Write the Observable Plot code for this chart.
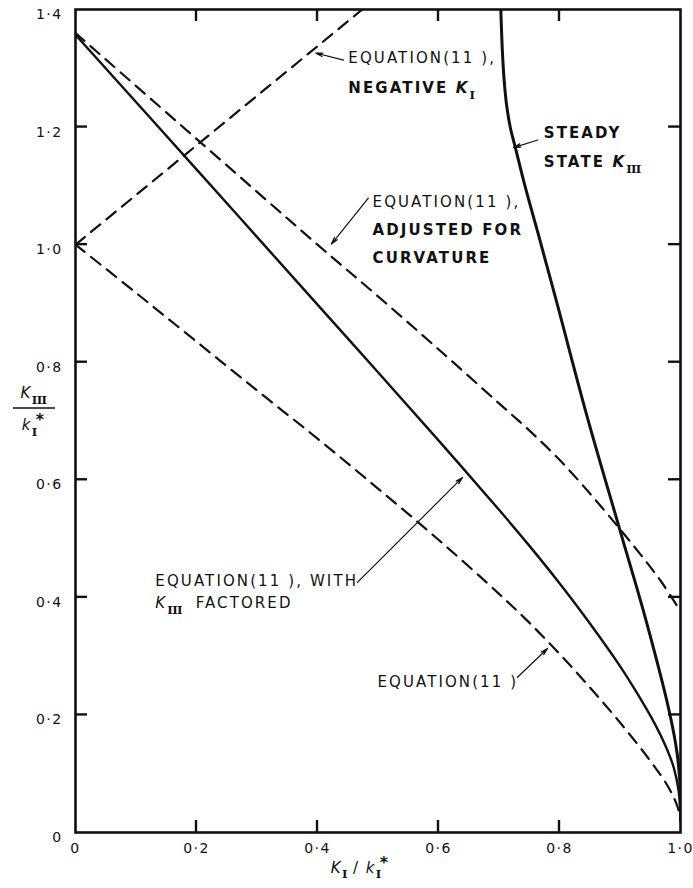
<!DOCTYPE html>
<html><head><meta charset="utf-8">
<script src="https://cdn.jsdelivr.net/npm/d3@7"></script>
<script src="https://cdn.jsdelivr.net/npm/@observablehq/plot@0.6"></script>
<style>
body{margin:0;background:#fff;}
#chart svg text{letter-spacing:1.4px}
#chart svg g.notes text{letter-spacing:2.1px}
</style></head><body><div id="chart"></div>
<script>
// ---- axes / ticks ----
const xTicks = [0, 0.2, 0.4, 0.6, 0.8, 1.0];
const yTicks = [0, 0.2, 0.4, 0.6, 0.8, 1.0, 1.2, 1.4];
const innerXTicks = [0.2, 0.4, 0.6, 0.8];
const innerYTicks = [0.2, 0.4, 0.6, 0.8, 1.0, 1.2];

// ---- curves ----
// Equation (11), with K_III factored (solid)
const factoredX = [0, 0.2, 0.4, 0.5, 0.6, 0.7, 0.75, 0.8, 0.85, 0.9, 0.93, 0.958, 0.975, 0.989, 0.997, 1.0];
const factoredY = [1.357, 1.128, 0.898, 0.783, 0.667, 0.549, 0.488, 0.424, 0.356, 0.283, 0.234, 0.184, 0.148, 0.11, 0.07, 0.02];
// Equation (11), adjusted for curvature (dashed)
const adjustedX = [0, 0.2, 0.4, 0.5, 0.6, 0.7, 0.75, 0.8, 0.85, 0.9, 0.94, 0.97, 1.0];
const adjustedY = [1.36, 1.18, 1.0, 0.912, 0.822, 0.73, 0.684, 0.634, 0.577, 0.516, 0.465, 0.424, 0.376];
// Equation (11) (dashed)
const eq11X = [0, 0.1, 0.2, 0.3, 0.4, 0.5, 0.6, 0.7, 0.75, 0.8, 0.85, 0.9, 0.95, 0.98, 0.995, 1.0];
const eq11Y = [1.0, 0.918, 0.835, 0.752, 0.67, 0.585, 0.498, 0.406, 0.357, 0.304, 0.247, 0.187, 0.122, 0.077, 0.044, 0.02];
// Equation (11), negative K_I (dashed)
const negativeX = [0, 0.474];
const negativeY = [1.0, 1.4];
// Steady state K_III (heavy solid)
const steadyX = [0.703, 0.7055, 0.7085, 0.7125, 0.7185, 0.7267, 0.7429, 0.7646, 0.7944, 0.8458, 0.9, 0.943, 0.981, 0.9945, 1.0, 1.0];
const steadyY = [1.4, 1.331, 1.28, 1.238, 1.2, 1.1665, 1.1, 1.019, 0.906, 0.707, 0.514, 0.361, 0.208, 0.134, 0.066, 0.02];

// ---- annotations (data coordinates) ----
const labelText = ["EQUATION(11 ),", "NEGATIVE *K*_{I}", "STEADY", "STATE *K*_{III}",
  "EQUATION(11 ),", "ADJUSTED FOR", "CURVATURE", "EQUATION(11 ), WITH", "*K*_{III}  FACTORED", "EQUATION(11 )"];
const labelX = [0.451, 0.451, 0.774, 0.774, 0.491, 0.491, 0.491, 0.132, 0.132, 0.499];
const labelY = [1.317, 1.266, 1.19, 1.14, 1.072, 1.025, 0.977, 0.427, 0.39, 0.255];
const labelBold = [false, true, true, true, false, true, true, false, false, false];

const arrowX1 = [0.443, 0.764, 0.484, 0.466, 0.7306];
const arrowY1 = [1.314, 1.178, 1.079, 0.4255, 0.264];
const arrowX2 = [0.397, 0.724, 0.423, 0.6397, 0.7802];
const arrowY2 = [1.326, 1.165, 1.001, 0.604, 0.313];

const xLabel = "*K*_{I} / *k*_{I}^{*}";
const yLabelTop = "*K*_{III}";
const yLabelBottom = "*k*_{I}^{*}";

// ---- build tables ----
const pts = (xs, ys) => xs.map((x, i) => ({x, y: ys[i]}));
const labels = labelText.map((t, i) => ({text: t, x: labelX[i], y: labelY[i], bold: labelBold[i]}));
const arrows = arrowX1.map((x1, i) => ({x1, y1: arrowY1[i], x2: arrowX2[i], y2: arrowY2[i]}));
const fmt = d => d === 0 ? "0" : d3.format(".1f")(d).replace(".", "\u00B7");

const W = 693, H = 888, mL = 75, mR = 13, mT = 9, mB = 56;
const tl = 12;          // inward tick length, px
const ink = "#111";
const dash = "12,8";

const svg = Plot.plot({
  width: W, height: H,
  marginLeft: mL, marginRight: mR, marginTop: mT, marginBottom: mB,
  style: {fontFamily: "DejaVu Sans, sans-serif", fontSize: "14px", color: ink, background: "#fff", overflow: "visible"},
  x: {domain: [0, 1]},
  y: {domain: [0, 1.4]},
  marks: [
    Plot.axisX({ticks: xTicks, tickSize: 0, tickPadding: 11, tickFormat: fmt, label: null, fontSize: 14}),
    Plot.axisY({ticks: yTicks, tickSize: 0, tickPadding: 13, tickFormat: fmt, label: null, fontSize: 14, dy: 5}),
    // curves
    Plot.line(pts(negativeX, negativeY), {x: "x", y: "y", stroke: ink, strokeWidth: 2.2, strokeDasharray: dash, clip: "frame"}),
    Plot.line(pts(eq11X, eq11Y), {x: "x", y: "y", curve: "catmull-rom", stroke: ink, strokeWidth: 2.2, strokeDasharray: dash, clip: "frame"}),
    Plot.line(pts(adjustedX, adjustedY), {x: "x", y: "y", curve: "catmull-rom", stroke: ink, strokeWidth: 2.2, strokeDasharray: dash, clip: "frame"}),
    Plot.line(pts(factoredX, factoredY), {x: "x", y: "y", curve: "catmull-rom", stroke: ink, strokeWidth: 2.4, clip: "frame"}),
    Plot.line(pts(steadyX, steadyY), {x: "x", y: "y", curve: "catmull-rom", stroke: ink, strokeWidth: 3, clip: "frame"}),
    Plot.frame({stroke: ink, strokeWidth: 2.6}),
    // annotations
    Plot.arrow(arrows, {x1: "x1", y1: "y1", x2: "x2", y2: "y2", stroke: ink, strokeWidth: 1.2, headLength: 9, headAngle: 28}),
    Plot.text(labels.filter(d => !d.bold), {x: "x", y: "y", text: "text", textAnchor: "start", fontSize: 15, fill: ink, className: "notes"}),
    Plot.text(labels.filter(d => d.bold), {x: "x", y: "y", text: "text", textAnchor: "start", fontSize: 15, fontWeight: "bold", fill: ink, className: "notes"}),
    // axis titles
    Plot.text([xLabel], {frameAnchor: "bottom", text: d => d, dx: -18, dy: 40, textAnchor: "middle", fontSize: 15, fill: ink}),
    Plot.text([yLabelTop], {frameAnchor: "left", text: d => d, dx: -42, dy: -28, textAnchor: "middle", fontSize: 15, fill: ink}),
    Plot.text([yLabelBottom], {frameAnchor: "left", text: d => d, dx: -42, dy: 4, textAnchor: "middle", fontSize: 15, fill: ink})
  ]
});
document.getElementById("chart").appendChild(svg);

// inward ticks on all four sides, positioned through Plot's own scales
const sx = svg.scale("x"), sy = svg.scale("y");
const gT = d3.select(svg).append("g").attr("stroke", ink).attr("stroke-width", 2.4);
const x0 = sx.apply(0), x1e = sx.apply(1), y0 = sy.apply(0), y1e = sy.apply(1.4);
innerYTicks.forEach(v => {
  const y = sy.apply(v);
  gT.append("line").attr("x1", x0).attr("x2", x0 + tl).attr("y1", y).attr("y2", y);
  gT.append("line").attr("x1", x1e - tl).attr("x2", x1e).attr("y1", y).attr("y2", y);
});
innerXTicks.forEach(v => {
  const x = sx.apply(v);
  gT.append("line").attr("x1", x).attr("x2", x).attr("y1", y0).attr("y2", y0 - tl);
  gT.append("line").attr("x1", x).attr("x2", x).attr("y1", y1e).attr("y2", y1e + tl);
});

// fraction bar of the y-axis title
d3.select(svg).append("line")
  .attr("x1", 13).attr("x2", 55).attr("y1", 408).attr("y2", 408)
  .attr("stroke", ink).attr("stroke-width", 1.6);

// rich text: *italic*, _{sub}, ^{sup}
function richify(root) {
  const NS = "http://www.w3.org/2000/svg";
  root.querySelectorAll("text").forEach(t => {
    const s = t.textContent;
    if (!/_\{|\^\{|\*[^*]+\*/.test(s)) return;
    const fs = parseFloat(getComputedStyle(t).fontSize) || 15;
    while (t.firstChild) t.removeChild(t.firstChild);
    const re = /\*([^*]+)\*|_\{([^}]*)\}|\^\{([^}]*)\}|([^*_^]+)/g;
    let m, shift = 0;
    while ((m = re.exec(s))) {
      const sp = document.createElementNS(NS, "tspan");
      let target = 0;
      if (m[1] !== undefined) {
        sp.textContent = m[1]; sp.setAttribute("font-style", "italic");
      } else if (m[2] !== undefined) {
        sp.textContent = m[2]; sp.setAttribute("font-size", fs * 0.78);
        sp.setAttribute("font-family", "DejaVu Serif"); sp.setAttribute("font-weight", "bold");
        sp.style.letterSpacing = "-0.6px"; target = fs * 0.38;
      } else if (m[3] !== undefined) {
        sp.textContent = m[3]; sp.setAttribute("font-size", fs * 1.05);
        sp.setAttribute("font-weight", "bold"); target = -fs * 0.3;
        sp.setAttribute("dx", -1);
      } else {
        sp.textContent = m[4];
      }
      const dy = target - shift;
      if (dy) sp.setAttribute("dy", dy);
      shift = target;
      t.appendChild(sp);
    }
  });
}
richify(svg);
</script></body></html>
